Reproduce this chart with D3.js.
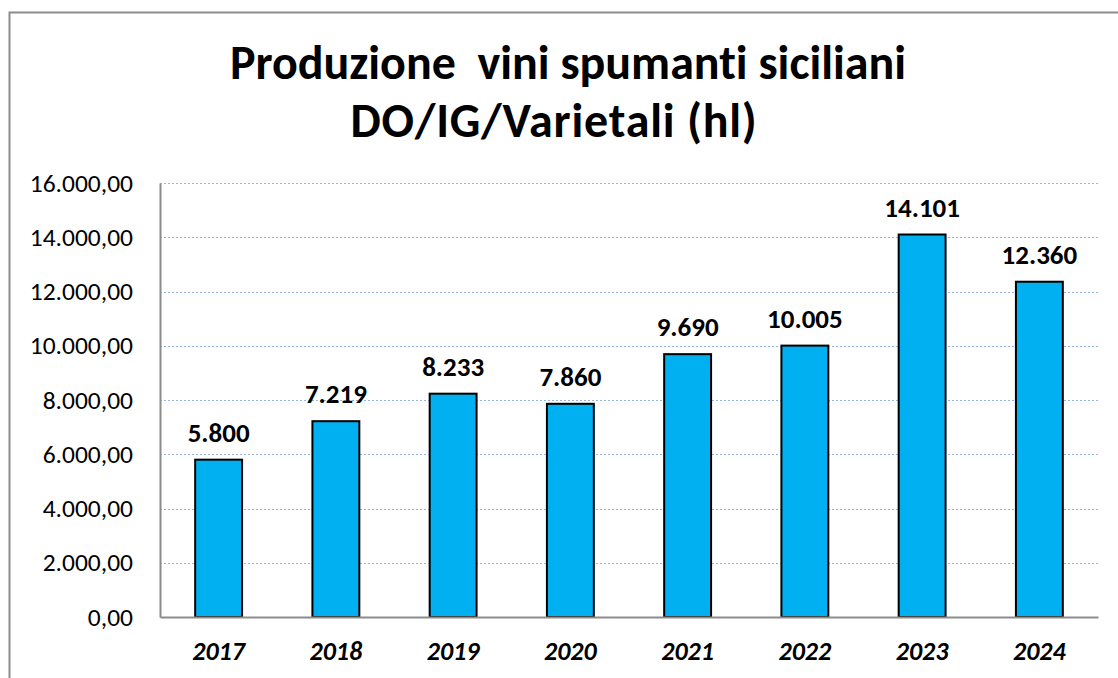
<!DOCTYPE html>
<html>
<head>
<meta charset="utf-8">
<script src="https://cdn.jsdelivr.net/npm/d3@7"></script>
<style>
  html, body { margin: 0; padding: 0; background: #fff; }
  svg { display: block; font-family: Carlito, Calibri, "Open Sans", sans-serif; font-variant-ligatures: none; font-feature-settings: "liga" 0, "clig" 0, "dlig" 0; }
</style>
</head>
<body>
<svg id="chart" width="1118" height="678"></svg>
<script>
const years = ["2017", "2018", "2019", "2020", "2021", "2022", "2023", "2024"];
const production = [5800, 7219, 8233, 7860, 9690, 10005, 14101, 12360];
const yTicks = [0, 2000, 4000, 6000, 8000, 10000, 12000, 14000, 16000];
const titleLines = ["Produzione  vini spumanti siciliani", "DO/IG/Varietali (hl)"];

const FONT = 'Carlito, Calibri, "Open Sans", sans-serif';
const itLocale = d3.formatLocale({ decimal: ",", thousands: ".", grouping: [3], currency: ["€", ""] });
const fmtTick = itLocale.format(",.2f");
const fmtLabel = itLocale.format(",.0f");

const svg = d3.select("#chart");
const plot = { left: 160, right: 1098, top: 183, bottom: 617 };

// outer chart border (right/bottom run off the picture)
svg.append("rect")
  .attr("x", 9.5).attr("y", 12.5)
  .attr("width", 1200).attr("height", 800)
  .attr("fill", "none").attr("stroke", "#8c8c8c").attr("stroke-width", 2);

// title
svg.append("g").selectAll("text").data(titleLines).join("text")
  .attr("x", (d, i) => i === 0 ? 568 : 554)
  .attr("y", (d, i) => i === 0 ? 79 : 137)
  .attr("text-anchor", "middle")
  .style("white-space", "pre")
  .attr("xml:space", "preserve")
  .attr("font-size", 48).attr("font-weight", "bold").attr("fill", "#000")
  .attr("letter-spacing", (d, i) => i === 0 ? 0 : 0.8)
  .text(d => d);

const x = d3.scaleBand().domain(years).range([plot.left, plot.right]).paddingInner(0.6).paddingOuter(0.3);
const y = d3.scaleLinear().domain([0, 16000]).range([plot.bottom, plot.top]);

// gridlines
svg.append("g").selectAll("line").data(yTicks.filter(t => t > 0)).join("line")
  .attr("x1", plot.left).attr("x2", plot.right)
  .attr("y1", d => Math.round(y(d)) + 0.5).attr("y2", d => Math.round(y(d)) + 0.5)
  .attr("stroke", "#95b3e5").attr("stroke-width", 1.2).attr("stroke-dasharray", "2,2");

// y axis
const yAxis = svg.append("g")
  .attr("transform", `translate(${plot.left},0)`)
  .call(d3.axisLeft(y).tickValues(yTicks).tickFormat(fmtTick).tickSize(0).tickPadding(27));
yAxis.select(".domain").attr("stroke", "#8c8c8c").attr("stroke-width", 2);
yAxis.selectAll("text").attr("font-size", 25.5).attr("fill", "#000").attr("font-family", FONT);

// bars
svg.append("g").selectAll("rect").data(production).join("rect")
  .attr("x", (d, i) => x(years[i]))
  .attr("y", d => y(d))
  .attr("width", x.bandwidth())
  .attr("height", d => y(0) - y(d))
  .attr("fill", "#00b0f0").attr("stroke", "#000").attr("stroke-width", 2);

// x axis
const xAxis = svg.append("g")
  .attr("transform", `translate(0,${plot.bottom})`)
  .call(d3.axisBottom(x).tickSize(0).tickPadding(25));
xAxis.select(".domain").attr("stroke", "#8c8c8c").attr("stroke-width", 2);
xAxis.selectAll("text").attr("font-size", 26).attr("font-weight", "bold").attr("font-style", "italic")
  .attr("fill", "#000").attr("font-family", FONT);

// data labels
svg.append("g").selectAll("text").data(production).join("text")
  .attr("x", (d, i) => x(years[i]) + x.bandwidth() / 2)
  .attr("y", d => y(d) - 18)
  .attr("text-anchor", "middle")
  .attr("font-size", 27).attr("font-weight", "bold").attr("fill", "#000")
  .text(d => fmtLabel(d));
</script>
</body>
</html>
